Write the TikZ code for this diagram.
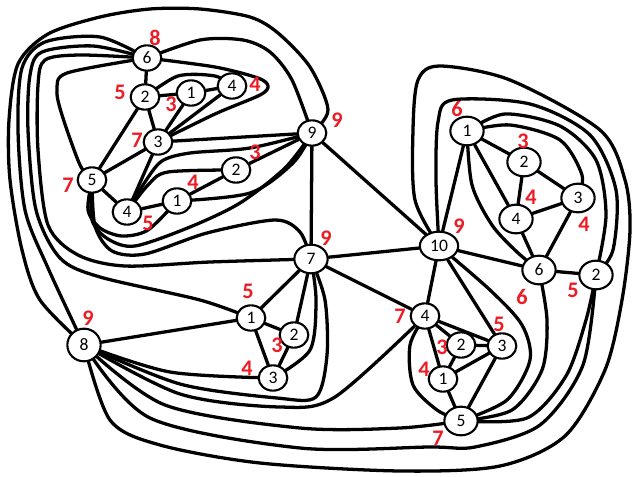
\documentclass[tikz,border=0pt]{standalone}
\usepackage{fontspec}
\setmainfont{Carlito}
\usetikzlibrary{shapes.geometric,backgrounds}
\definecolor{rouge}{RGB}{237,28,36}

\begin{document}
\begin{tikzpicture}[
  x=0.03cm, y=-0.03cm,
  sommet/.style={ellipse, draw, fill=white, line width=1.8pt, inner sep=0pt,
                 minimum width=0.86cm, minimum height=0.76cm, font=\fontsize{15}{15}\selectfont},
  grand/.style={minimum width=1cm, minimum height=0.86cm},
  degre/.style={text=rouge, font=\fontsize{19}{19}\selectfont\bfseries},
  lien/.style={line width=2.8pt, line join=round, line cap=round}
]
  \useasboundingbox (0,0) rectangle (634,477);

  % Sommets en haut a gauche
  \node[sommet] (a6) at (147,58) {6};
  \node[sommet] (a2) at (145,97) {2};
  \node[sommet] (a1) at (191,93) {1};
  \node[sommet] (a4) at (232,86) {4};
  \node[sommet] (a3) at (158,142) {3};
  \node[sommet] (a9) at (312,133) {9};
  \node[sommet] (a5) at (92,180) {5};
  \node[sommet] (b2) at (236,170) {2};
  \node[sommet] (b1) at (177,201) {1};
  \node[sommet] (b4) at (127,212) {4};

  % Sommets au milieu
  \node[sommet, grand] (m7) at (311,259) {7};
  \node[sommet, grand, minimum width=1.15cm] (m10) at (439,246) {10};
  \node[sommet] (m1) at (251,318) {1};
  \node[sommet] (m2) at (294,335) {2};
  \node[sommet] (m3) at (273,378) {3};
  \node[sommet, grand, minimum height=0.98cm] (m8) at (84,345) {8};

  % Sommets a droite
  \node[sommet, grand] (c1) at (467,131) {1};
  \node[sommet, grand] (c2) at (524,162) {2};
  \node[sommet, grand] (c3) at (578,198) {3};
  \node[sommet, grand] (c4) at (516,219) {4};
  \node[sommet, grand] (c6) at (539,270) {6};
  \node[sommet, grand] (c7) at (596,275) {2};

  % Sommets en bas
  \node[sommet] (d4) at (425,316) {4};
  \node[sommet] (d2) at (461,345) {2};
  \node[sommet] (d3) at (502,346) {3};
  \node[sommet] (d1) at (443,379) {1};
  \node[sommet, grand] (d5) at (461,421) {5};

  % Degres
  \node[degre] (la6) at (155,38) {8};
  \node[degre] (la2) at (120,92) {5};
  \node[degre] (la1) at (171,104) {3};
  \node[degre] (la4) at (255,84) {4};
  \node[degre] (la3) at (137,140) {7};
  \node[degre] (la9) at (337,120) {9};
  \node[degre] (la5) at (68,185) {7};
  \node[degre] (lb2) at (255,152) {3};
  \node[degre] (lb1) at (193,182) {4};
  \node[degre] (lb4) at (148,223) {5};
  \node[degre] (lm7) at (326,238) {9};
  \node[degre] (lm10) at (459,226) {9};
  \node[degre] (lm1) at (248,291) {5};
  \node[degre] (lm2) at (277,345) {3};
  \node[degre] (lm3) at (247,368) {4};
  \node[degre] (lm8) at (88,318) {9};
  \node[degre] (lc1) at (457,109) {6};
  \node[degre] (lc2) at (523,141) {3};
  \node[degre] (lc3) at (584,224) {4};
  \node[degre] (lc4) at (531,197) {4};
  \node[degre] (lc6) at (522,297) {6};
  \node[degre] (lc7) at (573,290) {5};
  \node[degre] (ld4) at (400,316) {7};
  \node[degre] (ld2) at (442,347) {3};
  \node[degre] (ld3) at (499,324) {5};
  \node[degre] (ld1) at (424,369) {4};
  \node[degre] (ld5) at (438,438) {7};

  \begin{pgfonlayer}{background}
    % Aretes droites
    \foreach \u/\v in {a6/a2, a2/a1, a1/a4, a2/a3, a1/a3, a4/a3, a3/a9, a3/a5,
                       a2/a5, a3/b4, a5/b4, b4/b1, b1/b2, b2/a9,
                       a9/m7, a9/m10, m7/m10, m7/d4, m7/m1, m7/m2, m1/m2, m2/m3,
                       m1/m3, m8/m1,
                       c1/c2, c1/c4, c2/c4, c2/c3, c4/c3, c4/c6, c3/c6, c6/c7,
                       c6/m10, c1/m10,
                       d4/d2, d4/d3, d4/d1, d2/d3, d2/d1, d1/d3, d1/d5, d3/d5,
                       d4/m10, d3/m10}
      \draw[lien] (\u) -- (\v);

    % Aretes courbes, en haut a gauche
    \draw[lien] plot[smooth] coordinates {(a2) (178,76) (215,76) (a4)};
    \draw[lien] plot[smooth] coordinates {(a6) (200,40) (243,40) (270,52) (292,80) (a9)};
    \draw[lien] plot[smooth] coordinates {(a6) (215,67) (258,78) (268,86) (260,95) (215,114) (a3)};
    \draw[lien] plot[smooth] coordinates {(a6) (67,73) (57,90) (62,115) (80,165) (a5)};
    \draw[lien] plot[smooth] coordinates {(b4) (148,185) (168,172) (b2)};
    \draw[lien] plot[smooth] coordinates {(b4) (145,182) (162,161) (190,153) (250,148) (a9)};
    \draw[lien] plot[smooth] coordinates {(b1) (250,193) (293,163) (a9)};
    \draw[lien] plot[smooth] coordinates {(a5) (88,210) (100,228) (122,236) (148,230) (b1)};
    \draw[lien] plot[smooth] coordinates {(a5) (92,220) (108,239) (135,246) (190,227) (240,203) (285,168) (a9)};
    \draw[lien] plot[smooth] coordinates {(a5) (95,226) (112,251) (145,254) (207,233) (275,220) (300,232) (m7)};

    % Grandes boucles a gauche
    \draw[lien] plot[smooth] coordinates {(a6) (80,55) (45,60) (38,85) (38,150) (48,225) (78,255) (125,266) (210,262) (m7)};
    \draw[lien] plot[smooth] coordinates {(a6) (93,46) (42,52) (30,75) (28,130) (36,210) (60,258) (100,277) (200,300) (m1)};
    \draw[lien] plot[smooth] coordinates {(a6) (100,37) (45,42) (22,68) (18,130) (25,210) (48,268) (m8)};
    \draw[lien] plot[smooth] coordinates {(m8) (40,300) (22,250) (10,180) (9,120) (18,64) (48,34) (100,17) (150,9) (200,9) (250,17) (278,33) (310,67) (328,110) (a9)};

    % Aretes courbes, au milieu
    \draw[lien] plot[smooth] coordinates {(m7) (316,300) (310,350) (m3)};
    \draw[lien] plot[smooth] coordinates {(m8) (170,372) (m3)};
    \draw[lien] plot[smooth] coordinates {(m8) (180,384) (277,398) (316,397) (327,355) (325,300) (m7)};
    \draw[lien] plot[smooth] coordinates {(m8) (180,394) (280,407) (335,397) (d4)};
    \draw[lien] plot[smooth] coordinates {(m8) (165,405) (300,428) (400,428) (d5)};
    \draw[lien] plot[smooth] coordinates {(m8) (150,418) (300,448) (430,447) (475,447) (540,425) (583,365) (c7)};
    \draw[lien] plot[smooth] coordinates {(m8) (110,420) (160,445) (260,463) (400,471) (500,466) (565,436) (605,370) (622,300) (630,230) (625,180) (600,130) (510,80) (440,66) (418,80) (413,130) (415,200) (m10)};

    % Aretes courbes, a droite
    \draw[lien] plot[smooth] coordinates {(c1) (472,185) (492,225) (517,252) (c6)};
    \draw[lien] plot[smooth] coordinates {(c1) (510,125) (560,140) (582,175) (c3)};
    \draw[lien] plot[smooth] coordinates {(c1) (505,114) (560,126) (596,160) (606,215) (c7)};
    \draw[lien] plot[smooth] coordinates {(m10) (436,180) (438,122) (452,100) (530,104) (590,135) (616,190) (613,250) (c7)};

    % Aretes courbes, en bas
    \draw[lien] plot[smooth] coordinates {(d4) (410,345) (413,385) (437,410) (d5)};
    \draw[lien] plot[smooth] coordinates {(m10) (490,290) (522,325) (530,360) (507,400) (d5)};
    \draw[lien] plot[smooth] coordinates {(c6) (547,320) (542,370) (512,410) (d5)};
    \draw[lien] plot[smooth] coordinates {(c7) (586,320) (566,376) (527,418) (d5)};
  \end{pgfonlayer}
\end{tikzpicture}
\end{document}
